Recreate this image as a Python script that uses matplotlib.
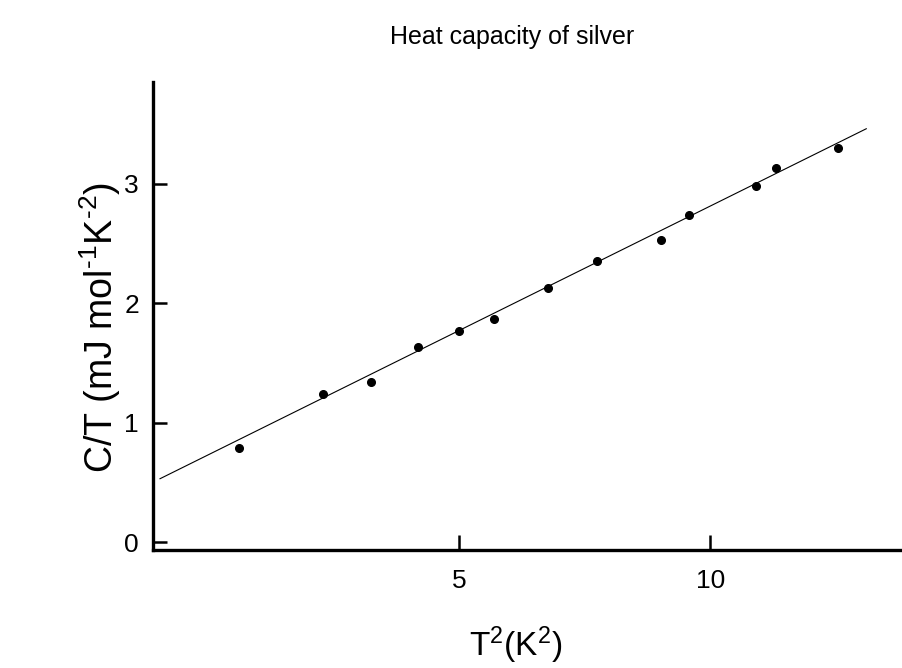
import matplotlib.pyplot as plt

plt.rcParams['font.family'] = ['Liberation Sans', 'DejaVu Sans']
plt.rcParams['mathtext.fontset'] = 'custom'
plt.rcParams['mathtext.rm'] = 'Liberation Sans'
plt.rcParams['mathtext.it'] = 'Liberation Sans'

# measured points: T^2 (K^2) vs C/T (mJ mol^-1 K^-2)
t_sq = [0.64, 2.31, 3.25, 4.19, 5.01, 5.70, 6.78, 7.74, 9.01, 9.58, 10.91, 11.30, 12.53]
c_over_t = [0.79, 1.24, 1.34, 1.63, 1.77, 1.87, 2.13, 2.35, 2.53, 2.74, 2.98, 3.13, 3.30]

# straight-line fit, drawn between its two ends
fit_x = [-0.94, 13.10]
fit_y = [0.53, 3.46]

x_ticks = [5, 10]
y_ticks = [0, 1, 2, 3]

fig = plt.figure(figsize=(9.03, 6.68), dpi=100)
ax = fig.add_axes([0.1694, 0.1766, 0.8306, 0.7004])

ax.plot(fit_x, fit_y, color='black', lw=0.8)
ax.plot(t_sq, c_over_t, 'o', color='black', markersize=5.5)

ax.set_xlim(-1.08, 13.83)
ax.set_ylim(-0.067, 3.85)

for side in ['top', 'right']:
    ax.spines[side].set_visible(False)
for side in ['left', 'bottom']:
    ax.spines[side].set_linewidth(2.4)

ax.set_xticks(x_ticks)
ax.set_yticks(y_ticks)
ax.tick_params(axis='both', direction='in', width=1.8, labelsize=19)
ax.tick_params(axis='x', length=11, pad=14)
ax.tick_params(axis='y', length=10, pad=10)

ax.set_xlabel('T$^{2}$(K$^{2}$)', fontsize=24, va='center')
ax.xaxis.set_label_coords(0.483, -0.203)
ax.set_ylabel(r'C/T (mJ mol$^{\text{-1}}$K$^{\text{-2}}$)', fontsize=27, va='center')
ax.yaxis.set_label_coords(-0.07, 0.476)
fig.text(0.567, 0.945, 'Heat capacity of silver', ha='center', va='center', fontsize=18)

fig.savefig('out.png', dpi=100)
